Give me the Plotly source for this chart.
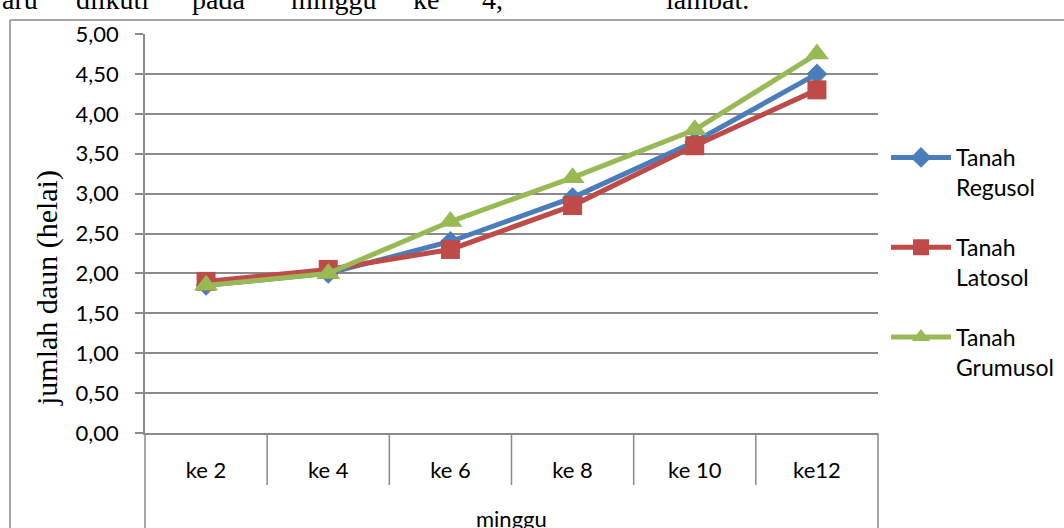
import plotly.graph_objects as go

axis_title_x = "minggu"
axis_title_y = "jumlah daun (helai)"
categories = ["ke 2", "ke 4", "ke 6", "ke 8", "ke 10", "ke12"]
regusol = [1.85, 2.00, 2.40, 2.95, 3.65, 4.50]
latosol = [1.90, 2.05, 2.30, 2.85, 3.60, 4.30]
grumusol = [1.85, 2.00, 2.65, 3.20, 3.80, 4.75]
series_names = ["Tanah<br>Regusol", "Tanah<br>Latosol", "Tanah<br>Grumusol"]
y_ticks = [0, 0.5, 1, 1.5, 2, 2.5, 3, 3.5, 4, 4.5, 5]
top_words = ["aru", "diikuti", "pada", "minggu", "ke", "4,", "lambat."]
top_word_x = [20, 112, 218, 334, 426, 492, 707]

W, H = 1064, 528
L, R, T, B = 145, 878, 34, 433
GRAY = "#8a8a8a"

colors = ["#4A7EBB", "#BE4B48", "#98B954"]
symbols = ["diamond", "square", "triangle-up"]
sizes = [16, 19, 21]
data = [regusol, latosol, grumusol]

fig = go.Figure()
for i, (vals, name) in enumerate(zip(data, series_names)):
    fig.add_trace(go.Scatter(
        x=categories, y=vals, name=name, mode="lines+markers",
        legendgroup=f"g{i}",
        line=dict(color=colors[i], width=5),
        marker=dict(symbol=symbols[i], size=sizes[i], color=colors[i]),
    ))

def px_x(p):
    return (p - L) / (R - L)

def px_y(p):
    return (B - p) / (B - T)

shapes = [
    dict(type="line", xref="paper", yref="paper", x0=px_x(10), x1=px_x(10),
         y0=px_y(20), y1=px_y(560), line=dict(color=GRAY, width=1.5)),
    dict(type="line", xref="paper", yref="paper", x0=px_x(10), x1=px_x(1100),
         y0=px_y(20), y1=px_y(20), line=dict(color=GRAY, width=1.5)),
]
n = len(categories)
for i in range(n + 1):
    bottom = 560 if i in (0, n) else 485
    shapes.append(dict(type="line", xref="paper", yref="paper",
                       x0=i / n, x1=i / n, y0=0, y1=px_y(bottom),
                       line=dict(color=GRAY, width=1.5)))

annotations = [
    dict(text=axis_title_y, xref="paper", yref="paper",
         x=px_x(47), y=px_y(288), showarrow=False, textangle=-90,
         font=dict(family="Liberation Serif", size=30, color="black"),
         xanchor="center", yanchor="middle"),
    dict(text=axis_title_x, xref="paper", yref="paper",
         x=0.5, y=px_y(518), showarrow=False,
         font=dict(family="Lato", size=22, color="black"),
         xanchor="center", yanchor="middle"),
]
for w, xp in zip(top_words, top_word_x):
    annotations.append(dict(text=w, xref="paper", yref="paper",
                            x=px_x(xp), y=px_y(0), showarrow=False,
                            font=dict(family="Liberation Serif", size=28, color="black"),
                            xanchor="center", yanchor="middle"))

fig.update_layout(
    width=W, height=H,
    margin=dict(l=L, r=W - R, t=T, b=H - B, autoexpand=False),
    paper_bgcolor="white", plot_bgcolor="white",
    separators=",.",
    font=dict(family="Lato", size=22, color="black"),
    showlegend=True,
    legend=dict(x=px_x(886), y=px_y(136), xanchor="left", yanchor="top",
                valign="top", tracegroupgap=27, itemwidth=60,
                font=dict(size=23), bgcolor="rgba(0,0,0,0)"),
    shapes=shapes,
    annotations=annotations,
)
fig.update_xaxes(
    type="category", range=[-0.5, n - 0.5], showgrid=False, showline=True,
    linecolor=GRAY, linewidth=1.5, ticks="",
    ticklabelstandoff=17,
    tickfont=dict(family="Lato", size=22, color="black"),
    automargin=False,
)
fig.update_yaxes(
    range=[0, 5], tickvals=y_ticks, tickformat=".2f",
    showgrid=True, gridcolor=GRAY, gridwidth=1.5,
    showline=True, linecolor=GRAY, linewidth=1.5,
    ticks="outside", ticklen=8, tickcolor=GRAY, tickwidth=1.5,
    ticklabelstandoff=12,
    zeroline=False,
    tickfont=dict(family="Lato", size=22, color="black"),
    automargin=False,
)

fig.write_html("out.html", config={"displayModeBar": False},
               post_script="document.body.style.margin='0';")
